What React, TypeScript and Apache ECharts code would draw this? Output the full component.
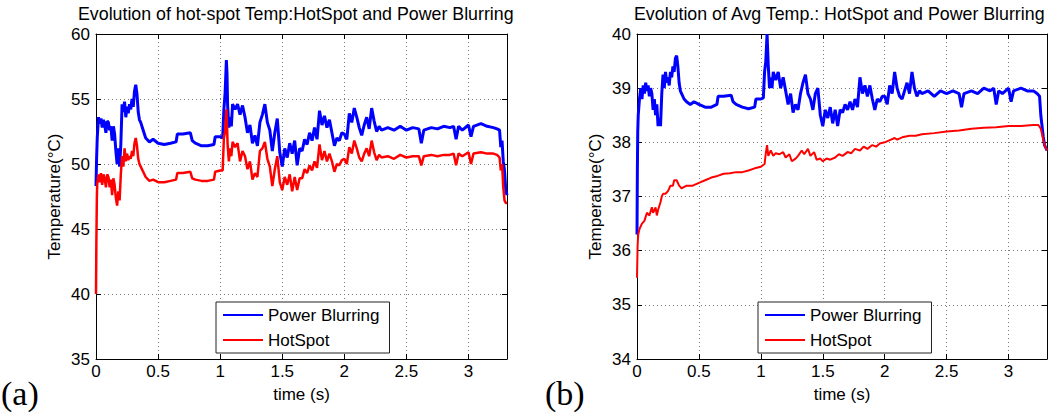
import React, { useEffect, useRef } from "react";
import * as echarts from "echarts";

const FONT = "'Liberation Sans', Arial, Helvetica, sans-serif";

const titleA = "Evolution of hot-spot Temp:HotSpot and Power Blurring";
const titleB = "Evolution of Avg Temp.: HotSpot and Power Blurring";
const seriesNames = ["Power Blurring", "HotSpot"];
const xTicks = [0, 0.5, 1, 1.5, 2, 2.5, 3];
const yTicksA = [35, 40, 45, 50, 55, 60];
const yTicksB = [34, 35, 36, 37, 38, 39, 40];

// (a) hot-spot temperature: [time (s), temperature (°C)]
const powerBlurA = [[0,48.3],[0.005,50.5],[0.01,52],[0.02,53.6],[0.03,53.1],[0.04,53.5],[0.05,52.8],[0.06,53.4],[0.07,53.0],[0.08,52.4],[0.09,53.3],[0.10,53.2],[0.11,52.6],[0.12,52.9],[0.13,51.8],[0.14,52.9],[0.15,52.3],[0.16,51.0],[0.17,50.0],[0.18,51.2],[0.19,49.8],[0.20,51.5],[0.21,54.6],[0.22,54.0],[0.23,54.8],[0.24,53.6],[0.25,54.4],[0.26,53.9],[0.27,54.6],[0.28,54.2],[0.29,55.0],[0.30,54.4],[0.31,55.6],[0.32,56.1],[0.33,55.4],[0.34,54.0],[0.35,53.4],[0.36,53.2],[0.38,52.6],[0.40,52.0],[0.43,51.7],[0.46,51.9],[0.50,51.6],[0.55,51.5],[0.60,51.6],[0.645,51.7],[0.655,52.3],[0.70,52.3],[0.76,52.4],[0.775,51.8],[0.80,51.6],[0.85,51.4],[0.90,51.4],[0.95,51.5],[0.96,52.1],[1.00,52.1],[1.02,52.0],[1.03,54.2],[1.04,55.5],[1.05,58.0],[1.055,57.0],[1.06,54.5],[1.07,52.8],[1.08,53.6],[1.09,52.9],[1.10,54.6],[1.12,54.2],[1.14,54.6],[1.16,53.8],[1.18,54.5],[1.20,53.6],[1.22,52.4],[1.24,53.0],[1.26,51.6],[1.28,52.2],[1.30,51.4],[1.32,53.2],[1.34,53.8],[1.36,54.6],[1.38,53.2],[1.40,52.6],[1.42,51.0],[1.44,52.4],[1.46,53.5],[1.48,50.9],[1.50,49.8],[1.52,51.2],[1.54,50.5],[1.56,51.6],[1.58,50.8],[1.60,51.8],[1.62,49.9],[1.64,51.2],[1.66,51.0],[1.68,51.9],[1.70,51.5],[1.72,52.4],[1.74,51.8],[1.76,52.8],[1.78,51.9],[1.80,54.1],[1.82,53.0],[1.84,53.7],[1.86,52.8],[1.88,53.4],[1.90,52.4],[1.92,51.4],[1.94,52.0],[1.96,51.8],[1.98,52.4],[2.00,52.3],[2.02,51.9],[2.04,53.9],[2.06,53.2],[2.08,54.3],[2.10,53.6],[2.12,52.8],[2.14,52.2],[2.16,53.0],[2.18,53.6],[2.20,52.7],[2.22,54.3],[2.24,53.3],[2.26,52.5],[2.28,52.9],[2.30,52.6],[2.35,52.8],[2.40,52.6],[2.45,52.9],[2.50,52.6],[2.55,52.8],[2.60,52.7],[2.62,51.6],[2.64,52.6],[2.70,52.8],[2.75,52.7],[2.80,52.9],[2.85,52.8],[2.88,52.9],[2.90,51.9],[2.92,52.9],[2.95,52.6],[3.00,53.0],[3.02,52.1],[3.04,52.9],[3.10,53.1],[3.15,52.9],[3.20,52.8],[3.23,52.7],[3.25,52.6],[3.26,51.3],[3.27,51.8],[3.28,50.2],[3.29,49.5],[3.30,48.0],[3.31,47.6]];

const hotSpotA = [[0,40.0],[0.003,44],[0.007,47.5],[0.01,48.5],[0.02,49.2],[0.03,48.6],[0.04,49.3],[0.05,48.4],[0.06,49.2],[0.07,48.9],[0.08,48.2],[0.09,49.2],[0.10,49.0],[0.11,48.2],[0.12,48.8],[0.13,47.6],[0.14,48.9],[0.15,48.4],[0.16,47.4],[0.17,46.8],[0.18,47.9],[0.19,47.2],[0.20,49.2],[0.21,50.6],[0.22,49.8],[0.23,51.2],[0.24,50.2],[0.25,50.8],[0.26,50.3],[0.27,50.6],[0.28,50.4],[0.29,51.0],[0.30,50.6],[0.31,51.6],[0.32,52.0],[0.33,51.4],[0.34,50.4],[0.35,50.0],[0.36,49.8],[0.38,49.4],[0.40,49.0],[0.43,48.7],[0.46,48.8],[0.50,48.6],[0.55,48.6],[0.60,48.7],[0.645,48.8],[0.655,49.3],[0.70,49.3],[0.76,49.4],[0.775,48.9],[0.80,48.8],[0.85,48.7],[0.90,48.7],[0.95,48.8],[0.96,49.4],[1.00,49.5],[1.02,49.5],[1.03,52.0],[1.04,52.5],[1.05,54.2],[1.055,53.0],[1.06,51.5],[1.07,50.2],[1.08,51.2],[1.09,50.6],[1.10,51.7],[1.12,51.3],[1.14,51.6],[1.16,50.2],[1.18,51.0],[1.20,50.6],[1.22,49.6],[1.24,50.2],[1.26,48.8],[1.28,49.3],[1.30,49.0],[1.32,51.0],[1.34,51.2],[1.36,51.7],[1.38,50.4],[1.40,49.8],[1.42,48.3],[1.44,49.6],[1.46,50.6],[1.48,48.6],[1.50,48.0],[1.52,49.0],[1.54,48.4],[1.56,49.2],[1.58,47.9],[1.60,49.0],[1.62,48.0],[1.64,48.9],[1.66,48.9],[1.68,49.6],[1.70,49.3],[1.72,49.9],[1.74,49.5],[1.76,50.2],[1.78,49.7],[1.80,51.5],[1.82,50.3],[1.84,51.0],[1.86,50.2],[1.88,50.8],[1.90,50.2],[1.92,49.4],[1.94,50.0],[1.96,49.9],[1.98,50.3],[2.00,50.4],[2.02,50.0],[2.04,51.3],[2.06,50.8],[2.08,51.8],[2.10,51.2],[2.12,50.5],[2.14,50.2],[2.16,50.8],[2.18,51.2],[2.20,50.6],[2.22,51.8],[2.24,50.9],[2.26,50.3],[2.28,50.7],[2.30,50.5],[2.35,50.6],[2.40,50.4],[2.45,50.7],[2.50,50.5],[2.55,50.6],[2.60,50.6],[2.62,49.9],[2.64,50.6],[2.70,50.7],[2.75,50.6],[2.80,50.7],[2.85,50.7],[2.88,50.8],[2.90,49.9],[2.92,50.8],[2.95,50.6],[3.00,50.9],[3.02,50.0],[3.04,50.8],[3.10,50.9],[3.15,50.8],[3.20,50.8],[3.23,50.7],[3.25,50.5],[3.26,49.5],[3.27,50.0],[3.28,48.2],[3.29,47.2],[3.30,47.0],[3.31,47.0]];

// (b) average temperature
const powerBlurB = [[0,36.3],[0.003,37.5],[0.006,38.2],[0.01,38.5],[0.02,38.8],[0.03,39.0],[0.04,38.8],[0.05,39.05],[0.06,38.9],[0.07,39.1],[0.08,38.95],[0.09,39.05],[0.10,38.85],[0.11,39.0],[0.12,38.9],[0.13,38.6],[0.14,38.8],[0.15,38.5],[0.16,38.7],[0.17,38.3],[0.18,38.45],[0.19,38.3],[0.20,38.9],[0.21,39.25],[0.22,39.0],[0.23,39.3],[0.24,39.1],[0.25,39.2],[0.26,39.05],[0.27,39.3],[0.28,39.2],[0.29,39.4],[0.30,39.3],[0.31,39.55],[0.32,39.6],[0.33,39.4],[0.34,39.1],[0.35,38.95],[0.36,38.9],[0.38,38.8],[0.40,38.75],[0.43,38.7],[0.46,38.75],[0.50,38.7],[0.55,38.65],[0.60,38.65],[0.645,38.7],[0.655,38.85],[0.70,38.85],[0.76,38.87],[0.775,38.75],[0.80,38.7],[0.85,38.65],[0.90,38.62],[0.95,38.65],[0.96,38.8],[1.00,38.8],[1.02,38.82],[1.03,39.3],[1.04,39.5],[1.05,40.0],[1.055,39.7],[1.06,39.4],[1.07,39.0],[1.08,39.2],[1.09,39.0],[1.10,39.3],[1.12,39.15],[1.14,39.3],[1.16,39.0],[1.18,39.2],[1.20,38.95],[1.22,38.7],[1.24,38.9],[1.26,38.55],[1.28,38.7],[1.30,38.6],[1.32,38.9],[1.34,39.1],[1.36,39.25],[1.38,38.9],[1.40,38.8],[1.42,38.6],[1.44,38.9],[1.46,39.0],[1.48,38.5],[1.50,38.3],[1.52,38.6],[1.54,38.45],[1.56,38.65],[1.58,38.35],[1.60,38.6],[1.62,38.3],[1.64,38.6],[1.66,38.55],[1.68,38.7],[1.70,38.6],[1.72,38.75],[1.74,38.6],[1.76,38.8],[1.78,38.65],[1.80,39.2],[1.82,38.9],[1.84,39.05],[1.86,38.85],[1.88,39.05],[1.90,38.8],[1.92,38.6],[1.94,38.8],[1.96,38.75],[1.98,38.85],[2.00,38.85],[2.02,38.7],[2.04,39.05],[2.06,38.9],[2.08,39.3],[2.10,39.0],[2.12,38.85],[2.14,38.8],[2.16,38.95],[2.18,39.1],[2.20,38.9],[2.22,39.3],[2.24,39.0],[2.26,38.85],[2.28,38.95],[2.30,38.9],[2.35,38.95],[2.40,38.85],[2.45,38.95],[2.50,38.9],[2.55,38.95],[2.60,38.9],[2.62,38.65],[2.64,38.9],[2.70,38.95],[2.75,38.9],[2.80,39.0],[2.85,38.95],[2.88,39.0],[2.90,38.7],[2.92,38.95],[2.95,38.9],[3.00,39.0],[3.02,38.75],[3.04,38.95],[3.10,39.0],[3.15,38.95],[3.20,38.95],[3.23,38.9],[3.25,38.85],[3.26,38.5],[3.27,38.3],[3.28,38.1],[3.29,37.95],[3.30,37.9],[3.31,37.85]];

const hotSpotB = [[0,35.5],[0.005,36.1],[0.01,36.3],[0.02,36.4],[0.04,36.5],[0.06,36.55],[0.08,36.7],[0.10,36.65],[0.12,36.8],[0.13,36.7],[0.15,36.8],[0.16,36.65],[0.17,36.75],[0.19,36.9],[0.20,37.0],[0.21,37.05],[0.23,37.05],[0.25,37.1],[0.27,37.2],[0.29,37.2],[0.30,37.3],[0.32,37.3],[0.34,37.2],[0.36,37.15],[0.40,37.2],[0.45,37.2],[0.50,37.25],[0.55,37.3],[0.60,37.35],[0.65,37.38],[0.70,37.42],[0.75,37.43],[0.80,37.45],[0.85,37.45],[0.90,37.48],[0.95,37.52],[1.00,37.55],[1.03,37.6],[1.04,37.8],[1.05,37.95],[1.06,37.75],[1.08,37.85],[1.10,37.75],[1.12,37.8],[1.15,37.78],[1.18,37.82],[1.20,37.72],[1.23,37.78],[1.25,37.65],[1.28,37.7],[1.30,37.75],[1.33,37.85],[1.35,37.78],[1.38,37.88],[1.40,37.75],[1.43,37.82],[1.45,37.68],[1.48,37.7],[1.50,37.65],[1.53,37.7],[1.56,37.68],[1.60,37.72],[1.63,37.78],[1.66,37.75],[1.70,37.82],[1.73,37.8],[1.76,37.88],[1.80,37.85],[1.83,37.92],[1.86,37.88],[1.90,37.95],[1.93,37.92],[1.96,37.98],[2.00,38.0],[2.05,38.05],[2.08,38.08],[2.10,38.05],[2.15,38.1],[2.20,38.12],[2.25,38.12],[2.30,38.15],[2.40,38.17],[2.50,38.2],[2.60,38.22],[2.70,38.25],[2.80,38.27],[2.90,38.28],[3.00,38.3],[3.10,38.3],[3.20,38.32],[3.24,38.32],[3.26,38.25],[3.27,38.15],[3.28,38.05],[3.29,37.95],[3.30,37.9],[3.31,37.85]];

const X_MAX = 3.31;
const BLUE = "#0000ff";
const RED = "#ff0000";

function xAxisDef(grid: number, pos: "bottom" | "top", labels: boolean) {
  return {
    type: "value",
    gridIndex: grid,
    position: pos,
    min: xTicks[0],
    max: X_MAX,
    interval: xTicks[1] - xTicks[0],
    name: labels ? "time (s)" : "",
    nameLocation: "middle",
    nameGap: 27,
    nameTextStyle: { fontFamily: FONT, fontSize: 17, color: "#000" },
    axisLine: { show: true, onZero: false, lineStyle: { color: "#000", width: 1 } },
    axisTick: { show: true, inside: true, length: 5, lineStyle: { color: "#000" } },
    axisLabel: {
      show: labels,
      margin: 4,
      fontFamily: FONT,
      fontSize: 17,
      color: "#000",
      formatter: (v: number) => (xTicks.some((t) => Math.abs(t - v) < 1e-6) ? String(v) : ""),
    },
    splitLine: labels
      ? { show: true, lineStyle: { color: "#7a7a7a", type: [1, 3], width: 1 } }
      : { show: false },
  };
}

function yAxisDef(grid: number, pos: "left" | "right", ticks: number[], labels: boolean) {
  return {
    type: "value",
    gridIndex: grid,
    position: pos,
    min: ticks[0],
    max: ticks[ticks.length - 1],
    interval: ticks[1] - ticks[0],
    name: labels ? "Temperature(°C)" : "",
    nameLocation: "middle",
    nameGap: 33,
    nameTextStyle: { fontFamily: FONT, fontSize: 17, color: "#000" },
    axisLine: { show: true, onZero: false, lineStyle: { color: "#000", width: 1 } },
    axisTick: { show: true, inside: true, length: 5, lineStyle: { color: "#000" } },
    axisLabel: { show: labels, margin: 6, fontFamily: FONT, fontSize: 17, color: "#000" },
    splitLine: labels
      ? { show: true, lineStyle: { color: "#7a7a7a", type: [1, 3], width: 1 } }
      : { show: false },
  };
}

function legendDef(left: number) {
  return {
    show: true,
    left,
    top: 302,
    orient: "vertical",
    selectedMode: false,
    data: seriesNames.map((n) => ({ name: n, icon: "rect" })),
    itemWidth: 40,
    itemHeight: 2,
    itemGap: 5,
    padding: [3, 10, 3, 7],
    borderColor: "#222",
    borderWidth: 1,
    borderRadius: 0,
    backgroundColor: "#fff",
    textStyle: { fontFamily: FONT, fontSize: 17, color: "#000", lineHeight: 20 },
  };
}

function lineSeries(name: string, data: number[][], color: string, idx: number, width: number) {
  return {
    type: "line",
    name,
    data,
    xAxisIndex: idx,
    yAxisIndex: idx,
    showSymbol: false,
    symbol: "none",
    lineStyle: { color, width },
    itemStyle: { color },
    z: name === "HotSpot" ? 3 : 2,
  };
}

export default function App() {
  const ref = useRef<HTMLDivElement>(null);
  useEffect(() => {
    if (!ref.current) return;
    const chart = echarts.init(ref.current, undefined, { renderer: "svg" });
    chart.setOption({
      animation: false,
      backgroundColor: "#fff",
      grid: [
        { left: 96, top: 34, width: 411, height: 325, containLabel: false },
        { left: 637, top: 34, width: 410, height: 325, containLabel: false },
      ],
      xAxis: [
        xAxisDef(0, "bottom", true),
        xAxisDef(0, "top", false),
        xAxisDef(1, "bottom", true),
        xAxisDef(1, "top", false),
      ],
      yAxis: [
        yAxisDef(0, "left", yTicksA, true),
        yAxisDef(0, "right", yTicksA, false),
        yAxisDef(1, "left", yTicksB, true),
        yAxisDef(1, "right", yTicksB, false),
      ],
      legend: [legendDef(216), legendDef(758)],
      series: [
        lineSeries(seriesNames[0], powerBlurA, BLUE, 0, 3),
        lineSeries(seriesNames[1], hotSpotA, RED, 0, 2.5),
        lineSeries(seriesNames[0], powerBlurB, BLUE, 2, 3),
        lineSeries(seriesNames[1], hotSpotB, RED, 2, 2),
      ],
      graphic: [
        {
          type: "text",
          left: 78,
          top: 5,
          style: { text: titleA, fontFamily: FONT, fontSize: 17.8, fill: "#000" },
        },
        {
          type: "text",
          left: 634,
          top: 5,
          style: { text: titleB, fontFamily: FONT, fontSize: 17.8, fill: "#000" },
        },
        {
          type: "text",
          left: 1,
          top: 376,
          style: { text: "(a)", fontFamily: "'Liberation Serif', 'Times New Roman', serif", fontSize: 34, fill: "#000" },
        },
        {
          type: "text",
          left: 545,
          top: 376,
          style: { text: "(b)", fontFamily: "'Liberation Serif', 'Times New Roman', serif", fontSize: 34, fill: "#000" },
        },
      ],
    });
    return () => chart.dispose();
  }, []);
  return (
    <div
      ref={ref}
      style={{ position: "fixed", left: 0, top: 0, width: 1063, height: 419, background: "#fff" }}
    />
  );
}
